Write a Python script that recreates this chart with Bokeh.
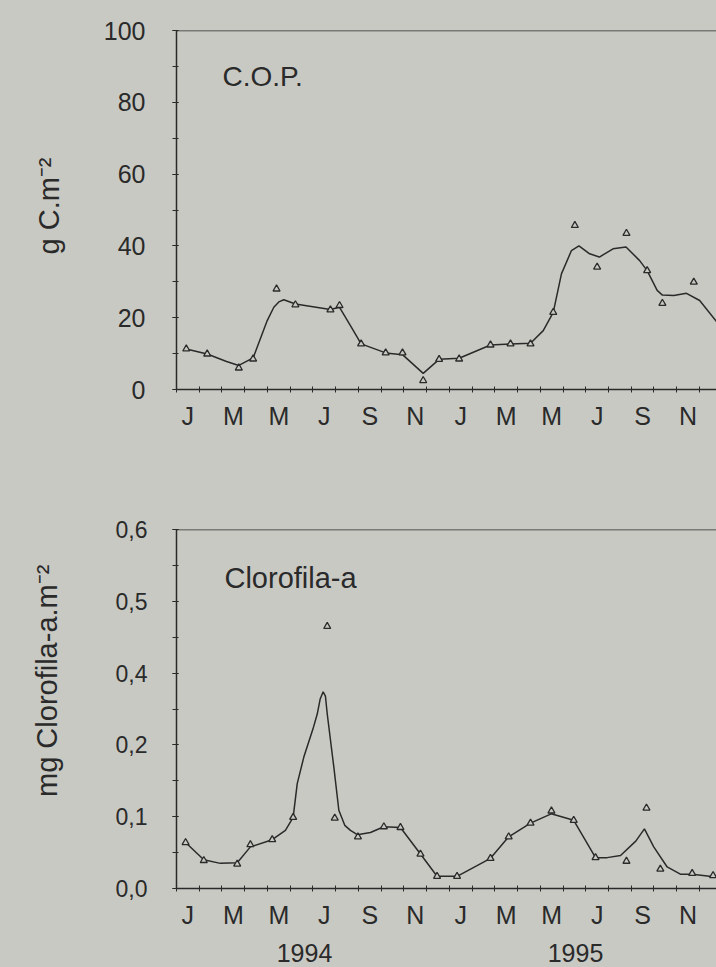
from bokeh.plotting import figure
from bokeh.models import FixedTicker, LinearAxis, Label, Span, Range1d
from bokeh.layouts import column
from bokeh.embed import file_html
from bokeh.resources import INLINE

# ---------------- data (months since Jan 1994) ----------------
month_centers = [0.5, 2.5, 4.5, 6.5, 8.5, 10.5, 12.5, 14.5, 16.5, 18.5, 20.5, 22.5]
month_labels = ["J", "M", "M", "J", "S", "N", "J", "M", "M", "J", "S", "N"]
month_edges = list(range(0, 24))
year_pos = [5.63, 17.55]
year_labels = ["1994", "1995"]

cop_ticks = [0, 20, 40, 60, 80, 100]
cop_tick_labels = ["0", "20", "40", "60", "80", "100"]
cop_minor = [0, 10, 20, 30, 40, 50, 60, 70, 80, 90, 100]

chl_ticks = [0, 0.1, 0.2, 0.3, 0.4, 0.5]
chl_tick_labels = ["0,0", "0,1", "0,2", "0,4", "0,5", "0,6"]
chl_minor = [0, 0.05, 0.1, 0.15, 0.2, 0.25, 0.3, 0.35, 0.4, 0.45, 0.5]

# C.O.P. observed values (g C m-2)
cop_month = [0.43, 1.35, 2.74, 3.37, 4.40, 5.23, 6.77, 7.17, 8.12, 9.20, 9.94, 10.85,
             11.55, 12.43, 13.81, 14.69, 15.57, 16.57, 17.52, 18.50, 19.79, 20.70, 21.37, 22.75]
cop_value = [11.3, 9.9, 6.0, 8.5, 28.0, 23.6, 22.2, 23.4, 12.7, 10.2, 10.2, 2.5,
             8.4, 8.5, 12.4, 12.7, 12.7, 21.5, 45.7, 34.1, 43.5, 33.1, 24.0, 29.9]

# C.O.P. smoothed curve
cop_fit_month = [0.43, 1.35, 2.2, 2.74, 3.37, 3.99, 4.28, 4.5, 4.72, 5.23, 6.77, 7.17, 7.65, 8.12,
                 9.20, 9.94, 10.85, 11.55, 12.43, 13.81, 14.69, 15.57, 16.13, 16.57, 16.93,
                 17.37, 17.70, 18.17, 18.60, 19.20, 19.77, 20.37, 20.70, 21.14, 21.37, 21.87,
                 22.43, 23.01, 23.75]
cop_fit_value = [11.3, 9.9, 7.8, 6.7, 8.8, 19.2, 22.9, 24.4, 25.0, 23.8, 22.3, 22.9, 17.8, 12.7,
                 10.2, 9.7, 4.5, 8.4, 8.7, 12.4, 12.7, 12.9, 16.4, 21.5, 32.2,
                 38.7, 40.0, 37.8, 36.9, 39.2, 39.7, 35.9, 33.1, 27.6, 26.3, 26.2,
                 26.8, 24.8, 18.9]

# Clorofila-a observed values
chl_month = [0.40, 1.20, 2.67, 3.25, 4.21, 5.13, 6.63, 6.96, 7.98, 9.12, 9.85, 10.73,
             11.46, 12.34, 13.81, 14.61, 15.57, 16.49, 17.47, 18.43, 19.79, 20.67, 21.28,
             22.68, 23.60]
chl_value = [0.064, 0.039, 0.034, 0.061, 0.068, 0.099, 0.365, 0.098, 0.072, 0.086, 0.085, 0.048,
             0.017, 0.017, 0.042, 0.072, 0.091, 0.108, 0.095, 0.043, 0.038, 0.112, 0.027,
             0.021, 0.018]

# Clorofila-a smoothed curve
chl_fit_month = [0.40, 1.20, 1.93, 2.67, 3.25, 4.21, 4.79, 5.13, 5.31, 5.60, 6.00, 6.19, 6.32,
                 6.45, 6.55, 6.63, 6.92, 7.14, 7.40, 7.65, 7.95, 8.53, 9.12, 9.85, 10.73,
                 11.46, 12.34, 13.81, 14.61, 15.57, 16.48, 17.47, 18.43, 18.94, 19.53,
                 20.20, 20.58, 20.99, 21.58, 22.16, 22.68, 23.75]
chl_fit_value = [0.064, 0.040, 0.035, 0.036, 0.058, 0.068, 0.081, 0.099, 0.146, 0.183, 0.222,
                 0.243, 0.264, 0.274, 0.268, 0.243, 0.169, 0.109, 0.088, 0.081, 0.075, 0.078,
                 0.086, 0.085, 0.048, 0.017, 0.017, 0.042, 0.072, 0.091, 0.104, 0.095,
                 0.043, 0.043, 0.046, 0.066, 0.083, 0.058, 0.030, 0.020, 0.020, 0.016]

BG = "#c8c9c3"
INK = "#2a2a2a"
FONT = "Liberation Sans"
NB = "\u00a0"


def make_fig(height, min_top, min_bottom, ymax, yticks, ylabels, yminor,
             ylab_size, standoff_y, ytitle, title_standoff):
    p = figure(width=716, height=height, output_backend="svg", toolbar_location=None,
               x_range=Range1d(0, 23.75), y_range=Range1d(0, ymax),
               min_border_left=176, min_border_right=0,
               min_border_top=min_top, min_border_bottom=min_bottom)
    p.background_fill_color = BG
    p.border_fill_color = BG
    p.outline_line_color = None
    p.grid.visible = False

    xa = p.xaxis[0]
    xa.ticker = FixedTicker(ticks=month_centers, minor_ticks=month_edges)
    xa.major_label_overrides = {c: l for c, l in zip(month_centers, month_labels)}
    xa.major_tick_line_color = None
    xa.major_tick_out = 0
    xa.major_tick_in = 0
    xa.minor_tick_line_color = INK
    xa.minor_tick_in = 3
    xa.minor_tick_out = 3
    xa.axis_line_color = INK
    xa.axis_line_width = 1.5
    xa.major_label_standoff = 9
    xa.major_label_text_font = FONT
    xa.major_label_text_font_size = "25px"
    xa.major_label_text_color = INK

    ya = p.yaxis[0]
    ya.ticker = FixedTicker(ticks=yticks, minor_ticks=yminor)
    ya.major_label_overrides = {t: l for t, l in zip(yticks, ylabels)}
    ya.major_tick_line_color = INK
    ya.minor_tick_line_color = INK
    ya.major_tick_in = 2
    ya.major_tick_out = 4
    ya.minor_tick_in = 2
    ya.minor_tick_out = 4
    ya.axis_line_color = INK
    ya.axis_line_width = 1.5
    ya.major_label_standoff = standoff_y
    ya.major_label_text_font = FONT
    ya.major_label_text_font_size = ylab_size
    ya.major_label_text_color = INK
    ya.axis_label = ytitle
    ya.axis_label_standoff = title_standoff
    ya.axis_label_text_font = FONT
    ya.axis_label_text_font_size = "29px"
    ya.axis_label_text_font_style = "normal"
    ya.axis_label_text_color = INK

    p.add_layout(Span(location=ymax, dimension="width", line_color=INK, line_width=1.5))
    return p


# ---------------- top: C.O.P. ----------------
p1 = make_fig(448, 30, 59, 100, cop_ticks, cop_tick_labels, cop_minor, "25px", 27,
              NB + "g C.m\u207b\u00b2", 36)
p1.line(cop_fit_month, cop_fit_value, line_color=INK, line_width=1.5)
p1.scatter(cop_month, cop_value, marker="triangle", size=7, line_color=INK,
           fill_color=BG, line_width=1.3)
p1.add_layout(Label(x=2.02, y=87.2, text="C.O.P.", text_font=FONT, text_font_size="28px",
                    text_color=INK, text_baseline="middle", text_align="left"))

# ---------------- bottom: Clorofila-a ----------------
p2 = make_fig(519, 81, 79, 0.5, chl_ticks, chl_tick_labels, chl_minor, "23px", 25,
              NB * 7 + "mg Clorofila-a.m\u207b\u00b2", 50)
p2.line(chl_fit_month, chl_fit_value, line_color=INK, line_width=1.5)
p2.scatter(chl_month, chl_value, marker="triangle", size=7, line_color=INK,
           fill_color=BG, line_width=1.3)
p2.add_layout(Label(x=2.11, y=0.432, text="Clorofila-a", text_font=FONT, text_font_size="29px",
                    text_color=INK, text_baseline="middle", text_align="left"))

year_axis = LinearAxis(ticker=FixedTicker(ticks=year_pos, minor_ticks=[]),
                       major_label_overrides={v: t for v, t in zip(year_pos, year_labels)})
year_axis.axis_line_color = None
year_axis.major_tick_line_color = None
year_axis.major_tick_in = 0
year_axis.major_tick_out = 0
year_axis.minor_tick_line_color = None
year_axis.major_label_standoff = 12
year_axis.major_label_text_font = FONT
year_axis.major_label_text_font_size = "25px"
year_axis.major_label_text_color = INK
p2.add_layout(year_axis, "below")

layout = column(p1, p2, spacing=0)
html = file_html(layout, INLINE)
html = html.replace("<head>", "<head><style>html,body{background:%s;}</style>" % BG, 1)
open("out.html", "w").write(html)
